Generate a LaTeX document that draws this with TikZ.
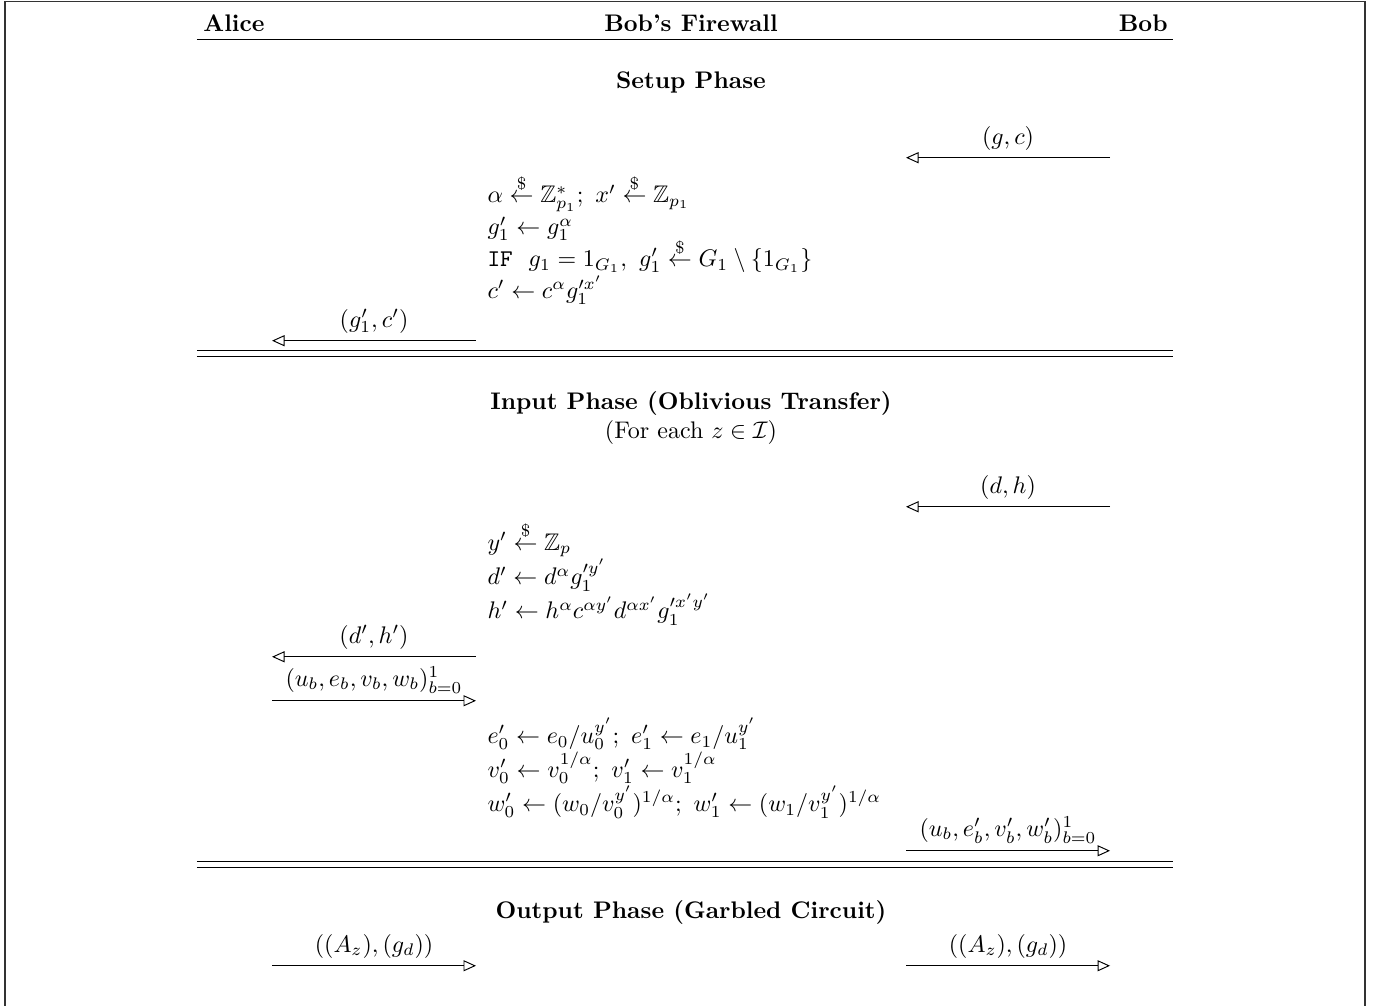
\documentclass[tikz,border=0pt]{standalone}
\usepackage{amsmath,amssymb}
\usetikzlibrary{arrows.meta}
\tikzset{
  msg/.style={-{Triangle[open,length=5.2pt,width=4.6pt]}},
  msglabel/.style={above,inner sep=3pt},
  party/.style={font=\bfseries,inner sep=0pt},
  phase/.style={anchor=base,font=\bfseries},
  fwcalc/.style={anchor=north west,inner sep=0pt,align=left,
    font=\fontsize{10pt}{#1}\selectfont},
  fwtight/.style={anchor=north west,inner sep=0pt,align=left,
    execute at begin node={\baselineskip=13.3pt\lineskiplimit=-20pt}}
}
\begin{document}
\begin{tikzpicture}
            % Page frame
            \useasboundingbox (0,0) rectangle (20.24,14.73);
            \draw[black!80,line width=0.6pt] (0.073,-1) -- (0.073,14.704) -- (19.992,14.704) -- (19.992,-1);
            % Header
            \node[party,anchor=base west] (alice) at (2.973,14.27) {Alice};
            \node[party,anchor=base] (firewall) at (10.12,14.27) {Bob's Firewall};
            \node[party,anchor=base east] (bob) at (17.107,14.27) {Bob};
            \draw (2.885,14.148) -- (17.18,14.148);
            % Message end points (A = Alice side, B = Bob side)
            \coordinate (gcB) at (16.257,12.42);
            \coordinate (gcF) at (13.269,12.42);
            \coordinate (gcpF) at (6.971,9.74);
            \coordinate (gcpA) at (3.984,9.74);
            \coordinate (dhB) at (16.257,7.308);
            \coordinate (dhF) at (13.269,7.308);
            \coordinate (dhpF) at (6.971,5.111);
            \coordinate (dhpA) at (3.984,5.111);
            \coordinate (uA) at (3.984,4.467);
            \coordinate (uF) at (6.971,4.467);
            \coordinate (upF) at (13.269,2.27);
            \coordinate (upB) at (16.257,2.27);
            \coordinate (gcA) at (3.984,0.586);
            \coordinate (gcAF) at (6.971,0.586);
            \coordinate (gcBF) at (13.269,0.586);
            \coordinate (gcBB) at (16.257,0.586);
            % Setup phase
            \node[phase] (setup) at (10.12,13.43) {Setup Phase};
            \draw[msg] (gcB) -- node[msglabel] (gclabel) {$(g,c)$} (gcF);
            \node[fwtight] (setupcalc) at (7.133,12.185) {%
              $\alpha \stackrel{\$}{\leftarrow} \mathbb{Z}_{p_1}^*;\ x' \stackrel{\$}{\leftarrow} \mathbb{Z}_{p_1}$\\
              $g_1' \leftarrow g_1^{\alpha}$\\
              \texttt{IF}\ \ $g_1 = 1_{G_1},\ g_1' \stackrel{\$}{\leftarrow} G_1 \setminus \{1_{G_1}\}$\\
              $c' \leftarrow c^{\alpha} g_1^{\prime x'}$};
            \draw[msg] (gcpF) -- node[msglabel] (gcplabel) {$(g_1',c')$} (gcpA);
            \draw (2.885,9.593) -- (17.18,9.593);
            \draw (2.885,9.505) -- (17.18,9.505);
            % Input phase
            \node[phase] (input) at (10.12,8.73) {Input Phase (Oblivious Transfer)};
            \node[anchor=base] (foreach) at (10.12,8.31) {(For each $z \in \mathcal{I}$)};
            \draw[msg] (dhB) -- node[msglabel] (dhlabel) {$(d,h)$} (dhF);
            \node[fwcalc=12.8pt] (inputcalc) at (7.133,7.10) {%
              $y' \stackrel{\$}{\leftarrow} \mathbb{Z}_p$\\
              $d' \leftarrow d^{\alpha} g_1^{\prime y'}$\\
              $h' \leftarrow h^{\alpha} c^{\alpha y'} d^{\alpha x'} g_1^{\prime x' y'}$};
            \draw[msg] (dhpF) -- node[msglabel] (dhplabel) {$(d',h')$} (dhpA);
            \draw[msg] (uA) -- node[msglabel] (ulabel) {$(u_b,e_b,v_b,w_b)_{b=0}^1$} (uF);
            \node[fwcalc=12.4pt] (outcalc) at (7.133,4.22) {%
              $e_0' \leftarrow e_0/u_0^{y'};\ e_1' \leftarrow e_1/u_1^{y'}$\\
              $v_0' \leftarrow v_0^{1/\alpha};\ v_1' \leftarrow v_1^{1/\alpha}$\\
              $w_0' \leftarrow (w_0/v_0^{y'})^{1/\alpha};\ w_1' \leftarrow (w_1/v_1^{y'})^{1/\alpha}$};
            \draw[msg] (upF) -- node[msglabel] (uplabel) {$(u_b,e_b',v_b',w_b')_{b=0}^1$} (upB);
            \draw (2.885,2.109) -- (17.18,2.109);
            \draw (2.885,2.021) -- (17.18,2.021);
            % Output phase
            \node[phase] (output) at (10.12,1.274) {Output Phase (Garbled Circuit)};
            \draw[msg] (gcA) -- node[msglabel] (gcAlabel) {$((A_z),(g_d))$} (gcAF);
            \draw[msg] (gcBF) -- node[msglabel] (gcBlabel) {$((A_z),(g_d))$} (gcBB);
        \end{tikzpicture}
\end{document}
